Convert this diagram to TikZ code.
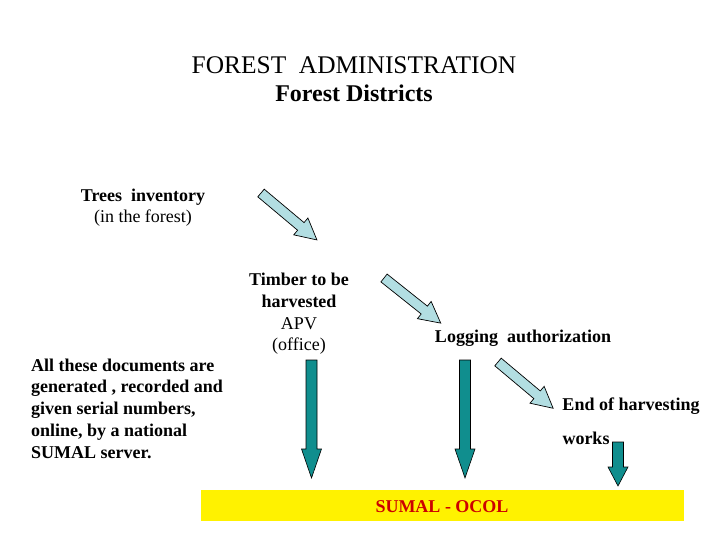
\documentclass[tikz,border=0pt]{standalone}
\usepackage{fontspec}
\setmainfont{Liberation Serif}
\definecolor{lightarrow}{RGB}{178,222,226}
\definecolor{tealarrow}{RGB}{16,142,142}
\definecolor{sumalred}{RGB}{204,0,0}
\newcommand{\blockarr}[8]{% x, y, angle, length, shaft half, head half, head length, style
\begin{scope}[shift={(#1,#2)},rotate=#3]
\draw[#8] (0,-#5) -- ({#4-#7},-#5) -- ({#4-#7},-#6) -- (#4,0) -- ({#4-#7},#6) -- ({#4-#7},#5) -- (0,#5) -- cycle;
\end{scope}}
\begin{document}
\begin{tikzpicture}[x=1pt,y=-1pt,
  txt/.style={inner sep=0pt,font=\fontsize{18}{21.6}\selectfont},
  lightstyle/.style={draw=black,line width=0.7pt,fill=lightarrow,line join=miter},
  tealstyle/.style={draw=black,line width=0.6pt,fill=tealarrow,line join=miter}]
\useasboundingbox (0,0) rectangle (720,540);
% title
\node[inner sep=0pt,align=center,font=\fontsize{24}{28}\selectfont] (title) at (354,79.5)
  {{\fontsize{25.4}{28}\selectfont FOREST\ \ ADMINISTRATION}\\\textbf{Forest Districts}};
% texts
\node[txt,align=center] (trees) at (143,207.5) {\textbf{Trees\ \ inventory}\\(in the forest)};
\node[txt,align=center] (timber) at (299,314) {\textbf{Timber to be}\\\textbf{harvested}\\APV\\(office)};
\node[txt,anchor=west,align=left,font=\fontsize{18}{21.8}\selectfont\bfseries] (docs) at (31,408.5)
  {All these documents are\\generated , recorded and\\given serial numbers,\\online, by a national\\SUMAL server.};
\node[txt,font=\fontsize{18}{21.6}\selectfont\bfseries] (logging) at (523,338) {Logging\ \ authorization};
\node[txt,font=\fontsize{18}{21.6}\selectfont\bfseries] (end) at (631,406) {End of harvesting};
\node[txt,font=\fontsize{18}{21.6}\selectfont\bfseries] (works) at (586,438) {works};
% yellow bar
\node[fill=yellow,minimum width=483pt,minimum height=31pt,inner sep=0pt] (bar) at (442.5,505.5) {};
\node[txt,text=sumalred,font=\fontsize{18}{21.6}\selectfont\bfseries] (sumal) at (442,507) {SUMAL - OCOL};
% light diagonal arrows
\blockarr{261}{193}{-40}{73}{5}{11}{21}{lightstyle}
\blockarr{384}{278}{-38.5}{72.5}{5}{11}{21}{lightstyle}
\blockarr{498}{362}{-40}{72}{5}{11}{21}{lightstyle}
% teal down arrows
\blockarr{311.5}{360}{-90}{118}{5.5}{10}{29}{tealstyle}
\blockarr{465}{360}{-90}{118}{5.5}{10}{29}{tealstyle}
\blockarr{618}{442}{-90}{44}{5.5}{10}{19}{tealstyle}
\end{tikzpicture}
\end{document}
